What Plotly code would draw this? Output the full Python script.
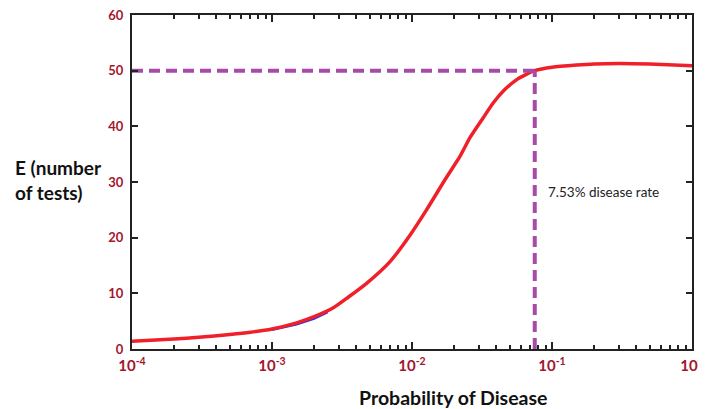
import plotly.graph_objects as go

# Data
prob = [1e-4, 2e-4, 3e-4, 5e-4, 7e-4, 1e-3, 1.5e-3, 2e-3, 2.74e-3, 3.5e-3, 4.74e-3,
        6.97e-3, 9.7e-3, 1.27e-2, 1.72e-2, 2.2e-2, 2.6e-2, 3.2e-2, 3.8e-2, 4.6e-2,
        5.6e-2, 6.5e-2, 7.53e-2, 1e-1, 1.5e-1, 2e-1, 3e-1, 5e-1, 1.0]
tests = [1.4, 1.8, 2.1, 2.6, 3.0, 3.6, 4.7, 5.8, 7.4, 9.3, 11.8,
         15.7, 20.5, 25.0, 30.4, 34.6, 38.0, 41.4, 44.2, 46.6,
         48.4, 49.3, 50.0, 50.6, 51.0, 51.2, 51.3, 51.2, 50.9]

blue_prob = [1e-3, 1.5e-3, 2e-3, 2.5e-3]
blue_tests = [3.4, 4.4, 5.4, 6.6]

threshold_p = 0.0753
threshold_e = 50

x_tickvals = [1e-4, 1e-3, 1e-2, 1e-1, 1]
x_ticktext = ["10<sup>-4</sup>", "10<sup>-3</sup>", "10<sup>-2</sup>", "10<sup>-1</sup>", "10<sup>0</sup>"]
y_tickvals = [0, 10, 20, 30, 40, 50, 60]

minor_vals = [k * 10 ** n for n in range(-4, 0) for k in range(2, 10)]

purple = "#A64CA8"
red = "#F0202A"
tickcol = "#A3162E"
font = "Lato"

fig = go.Figure()
fig.add_trace(go.Scatter(x=blue_prob, y=blue_tests, mode="lines",
                         line=dict(color="#3030E0", width=2), showlegend=False))
fig.add_trace(go.Scatter(x=prob, y=tests, mode="lines",
                         line=dict(color=red, width=3.5, shape="spline", smoothing=0.6),
                         showlegend=False))
fig.add_trace(go.Scatter(x=[1e-4, threshold_p], y=[threshold_e, threshold_e], mode="lines",
                         line=dict(color=purple, width=4, dash="11px,6px"), showlegend=False))
fig.add_trace(go.Scatter(x=[threshold_p, threshold_p], y=[0, threshold_e], mode="lines",
                         line=dict(color=purple, width=4, dash="11px,6px"), showlegend=False))

fig.add_annotation(x=-1.04, y=28.2, xref="x", yref="y", text="7.53% disease rate",
                   showarrow=False, xanchor="left", yanchor="middle",
                   font=dict(family=font, size=13.5, color="#222"))

fig.add_annotation(xref="paper", yref="paper", x=-0.212, y=0.506, xanchor="left", yanchor="middle",
                   text="<b>E (number<br>of tests)</b>", showarrow=False, align="left",
                   font=dict(family=font, size=19, color="#111"))
fig.add_annotation(xref="paper", yref="paper", x=0.573, y=-0.144, xanchor="center", yanchor="middle",
                   text="<b>Probability of Disease</b>", showarrow=False,
                   font=dict(family=font, size=19.5, color="#111"))

fig.update_xaxes(type="log", range=[-4, 0], tickvals=x_tickvals, ticktext=x_ticktext,
                 ticks="inside", ticklen=7, tickwidth=1.5, tickcolor="#222",
                 showline=True, linecolor="#222", linewidth=2, mirror="ticks",
                 showgrid=False, zeroline=False, automargin=False, ticklabelstandoff=2,
                 ticklabeloverflow="allow",
                 tickfont=dict(family=font, size=15, color=tickcol, weight="bold"),
                 minor=dict(tickvals=minor_vals, ticks="inside", ticklen=4, tickcolor="#222",
                            showgrid=False))
fig.update_yaxes(range=[0, 60], tickvals=y_tickvals, ticks="inside", ticklen=6, tickwidth=1.5,
                 tickcolor="#222", showline=True, linecolor="#222", linewidth=2, mirror="ticks",
                 showgrid=False, zeroline=False, automargin=False, ticklabelstandoff=4,
                 ticklabeloverflow="allow",
                 tickfont=dict(family=font, size=13, color=tickcol, weight="bold"))

# page body has an 8px default margin: the figure starts at (8, 8) in the window
fig.update_layout(width=698, height=401, margin=dict(l=124, r=14, t=7, b=60),
                  plot_bgcolor="white", paper_bgcolor="white")

fig.write_html("out.html")
